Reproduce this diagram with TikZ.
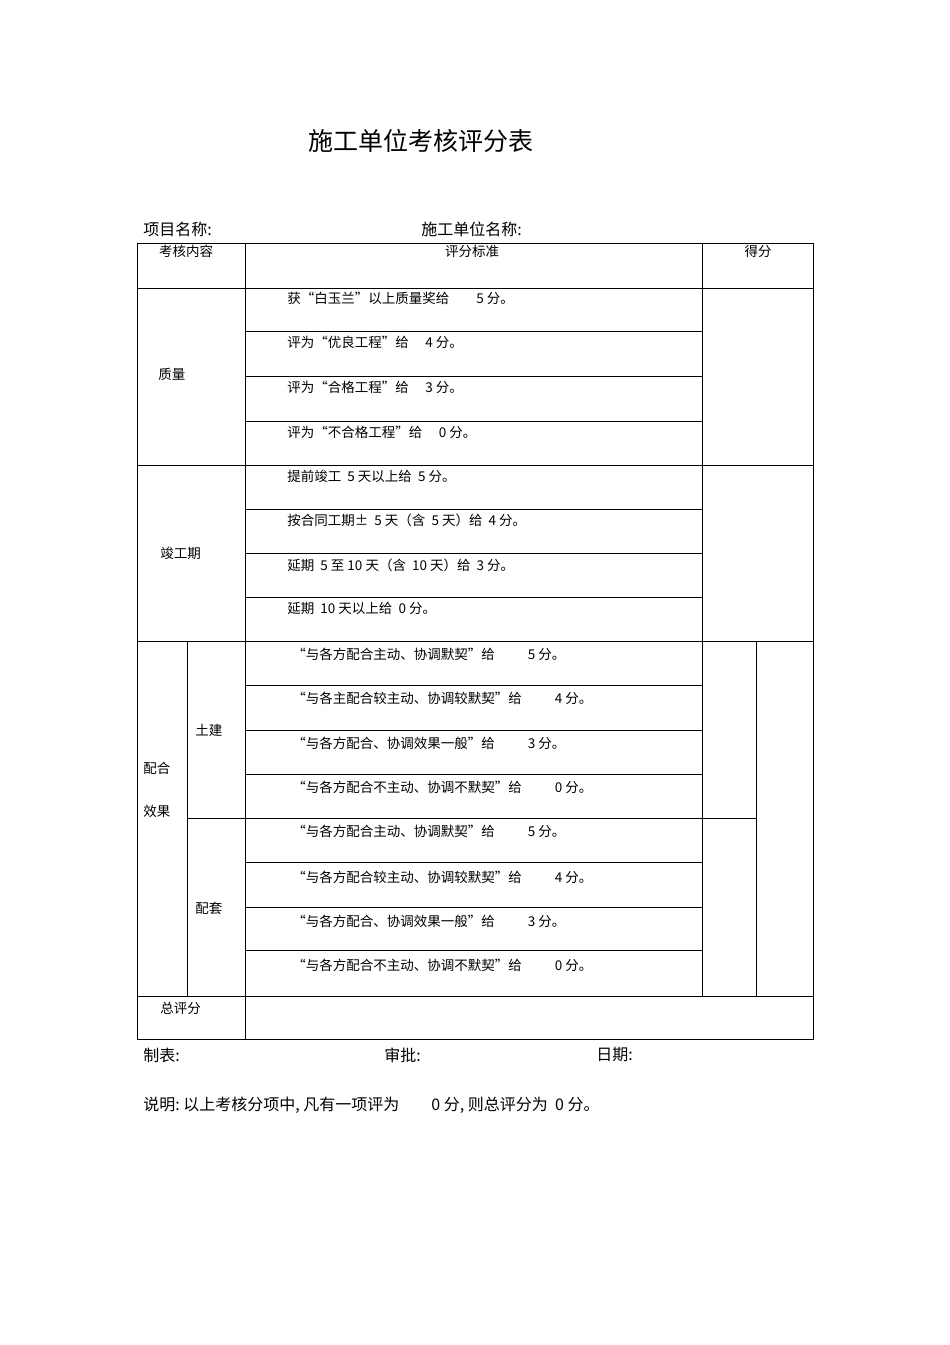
\documentclass[tikz,border=0pt]{standalone}
\usepackage{fontspec}
\newfontfamily\cjk{Noto Sans CJK SC}
\begin{document}
\begin{tikzpicture}[x=1pt,y=-1pt,line width=0.8pt,
  t/.style={anchor=west,inner sep=0pt,font=\cjk\fontsize{13.5}{13.5}\selectfont},
  tc/.style={anchor=center,inner sep=0pt,font=\cjk\fontsize{13.5}{13.5}\selectfont},
  b/.style={anchor=west,inner sep=0pt,font=\cjk\fontsize{16}{16}\selectfont}]
\useasboundingbox (0,0) rectangle (950,1345);
\node[inner sep=0pt,font=\cjk\fontsize{25}{25}\selectfont] (title) at (421,141) {施工单位考核评分表};
\node[b] (pn) at (143,229) {项目名称:};
\node[b] (cn) at (421,229) {施工单位名称:};
% grid
\draw (137,243) rectangle (813,1039);
\draw (245,243) -- (245,1039);
\draw (702,243) -- (702,996);
\draw (756,641) -- (756,996);
\draw (187,641) -- (187,996);
\foreach \y in {288,465,641,996} \draw (137,\y) -- (813,\y);
\foreach \y in {331,376,421,509,553,597,685,730,774,862,907,950} \draw (245,\y) -- (702,\y);
\draw (187,818) -- (756,818);
% headers
\node[tc] (h1) at (186,251) {考核内容};
\node[tc] (h2) at (472,251) {评分标准};
\node[tc] (h3) at (758,251) {得分};
\node[t] (q) at (158,374) {质量};
\node[t] (c) at (160,553) {竣工期};
\node[t] (p1) at (143,768) {配合};
\node[t] (p2) at (143,811) {效果};
\node[t] (tj) at (195,730) {土建};
\node[t] (pt) at (195,908) {配套};
\node[t] (tot) at (160,1008) {总评分};
% rows
\node[t] (r1) at (287,298) {获“白玉兰”以上质量奖给\qquad 5 分。};
\node[t] (r2) at (287,342) {评为“优良工程”给\quad\ 4 分。};
\node[t] (r3) at (287,387) {评为“合格工程”给\quad\ 3 分。};
\node[t] (r4) at (287,432) {评为“不合格工程”给\quad\ 0 分。};
\node[t] (r5) at (287,476) {提前竣工\ \ 5 天以上给\ \ 5 分。};
\node[t] (r6) at (287,520) {按合同工期±\ \ 5 天（含\ \ 5 天）给\ \ 4 分。};
\node[t] (r7) at (287,565) {延期\ \ 5 至 10 天（含\ \ 10 天）给\ \ 3 分。};
\node[t] (r8) at (287,608) {延期\ \ 10 天以上给\ \ 0 分。};
\node[t] (s1) at (292,654) {“与各方配合主动、协调默契”给\qquad\ \ 5 分。};
\node[t] (s2) at (292,698) {“与各主配合较主动、协调较默契”给\qquad\ \ 4 分。};
\node[t] (s3) at (292,743) {“与各方配合、协调效果一般”给\qquad\ \ 3 分。};
\node[t] (s4) at (292,787) {“与各方配合不主动、协调不默契”给\qquad\ \ 0 分。};
\node[t] (s5) at (292,831) {“与各方配合主动、协调默契”给\qquad\ \ 5 分。};
\node[t] (s6) at (292,877) {“与各方配合较主动、协调较默契”给\qquad\ \ 4 分。};
\node[t] (s7) at (292,921) {“与各方配合、协调效果一般”给\qquad\ \ 3 分。};
\node[t] (s8) at (292,965) {“与各方配合不主动、协调不默契”给\qquad\ \ 0 分。};
% footer
\node[b] (f1) at (143,1055) {制表:};
\node[b] (f2) at (384,1055) {审批:};
\node[b] (f3) at (596,1055) {日期:};
\node[b] (note) at (143,1105) {说明:\ 以上考核分项中,\ 凡有一项评为\qquad 0 分,\ 则总评分为\ \ 0 分。};
\end{tikzpicture}
\end{document}
